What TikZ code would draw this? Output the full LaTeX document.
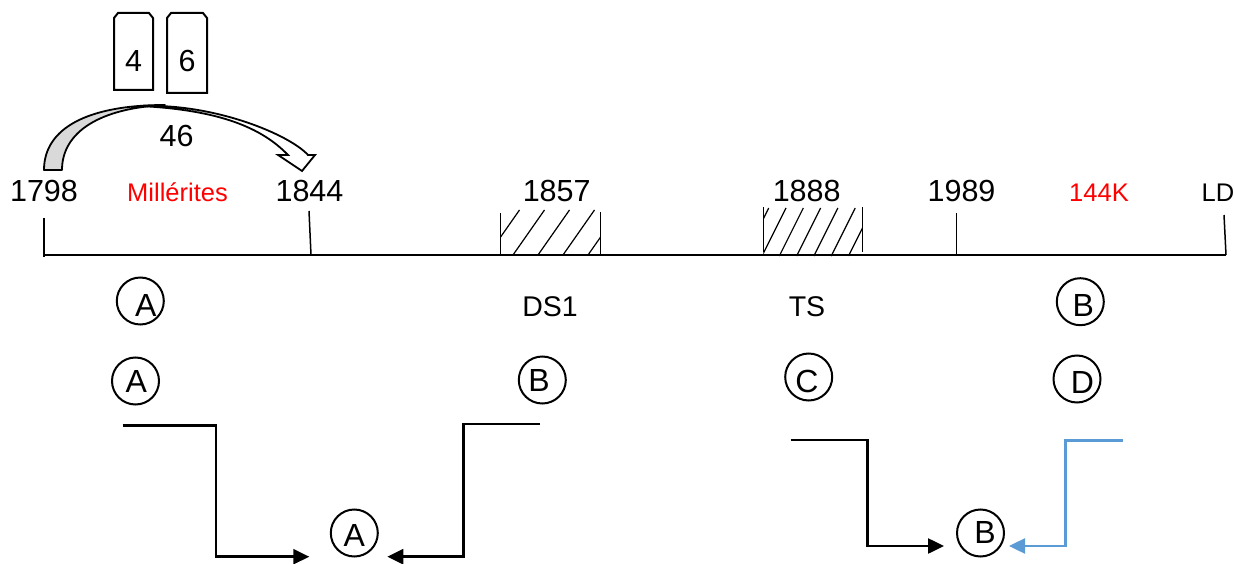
\documentclass[tikz,border=0pt]{standalone}
\usepackage{fontspec}
\setmainfont{Liberation Sans}
\usetikzlibrary{arrows.meta}
\definecolor{linkblue}{RGB}{91,155,213}
\definecolor{milred}{RGB}{255,0,0}
\definecolor{arcgray}{RGB}{217,217,217}
\begin{document}
\begin{tikzpicture}[x=1pt,y=-1pt,
 big/.style={font=\fontsize{30.5}{36}\selectfont, inner sep=0pt, anchor=base},
 small/.style={font=\fontsize{25.5}{30}\selectfont, inner sep=0pt, anchor=base},
 mid/.style={font=\fontsize{28.5}{33}\selectfont, inner sep=0pt, anchor=base},
 circ/.style={circle, draw, line width=2pt, minimum size=47pt, inner sep=0pt},
 lett/.style={font=\fontsize{32}{36}\selectfont, inner sep=0pt},
 tickline/.style={line width=1.5pt},
 hatch/.style={line width=1.2pt},
 tablet/.style={line width=2pt, line join=miter},
 conn/.style={line width=2.5pt, -{Triangle[length=16pt,width=15pt]}},
]
\useasboundingbox (0,0) rectangle (1234,564);

% tablets
\draw[tablet] (114,90) -- (114,18) -- (118,13) -- (149,13) -- (153,18) -- (153,90) -- cycle;
\draw[tablet] (167,93) -- (167,18) -- (171,13) -- (203,13) -- (207,18) -- (207,93) -- cycle;
\node[big] (t4) at (133.5,72) {4};
\node[big] (t6) at (187,72) {6};

% curved arrow: gray underside
\draw[line width=1.8pt, fill=arcgray, line join=round]
  (44,170) .. controls (44,128) and (88,105) .. (165,105)
  .. controls (100,108) and (62,132) .. (62,170) -- cycle;
% curved arrow: white top with head
\draw[line width=1.8pt, fill=white, line join=miter]
  (140,106) .. controls (215,103) and (290,135) .. (308,155)
  -- (315,155) -- (302,171) -- (278,155) -- (288,155)
  .. controls (262,128) and (220,110) .. (140,106) -- cycle;
\node[big] (n46) at (176.7,146.7) {46};

% timeline labels
\node[big] (y1798) at (44,202) {1798};
\node[small, text=milred] (mil) at (177.5,202) {Millérites};
\node[big] (y1844) at (309.5,202) {1844};
\node[big] (y1857) at (556.7,202) {1857};
\node[big] (y1888) at (806.7,202) {1888};
\node[big] (y1989) at (961.5,202) {1989};
\node[small, text=milred] (k144) at (1099,202) {144K};
\node[small, anchor=base west] (ld) at (1201.5,202) {LD};

% timeline
\draw[tickline] (44,255) -- (1226,255);
\draw[tickline] (44,218) -- (44,257);
\draw[tickline] (309,211) -- (311,255);
\draw[tickline] (956.7,213) -- (956.7,255);
\draw[tickline] (1224,215) -- (1226,255);

% hatched box 1857
\draw[tickline] (500.7,213) -- (500.7,255);
\draw[tickline] (600.7,212) -- (600.7,255);
\begin{scope}
  \clip (500.7,210) rectangle (600.7,255);
  \foreach \b in {463,488,513,538,563,588,613}
    \draw[hatch] (\b,255) -- ++(31.5,-45);
\end{scope}

% hatched box 1888
\draw[tickline] (763.3,207) -- (763.3,252);
\draw[tickline] (862.3,207) -- (862.3,252);
\begin{scope}
  \clip (763.3,208) rectangle (862.3,256);
  \foreach \t in {768.7,786,803.3,820.6,837.9,855.2,872.5,889.8}
    \draw[hatch] (\t,208) -- ++(-24,48);
\end{scope}

% row 1 labels
\node[circ] (ca1) at (140.3,301) {};
\node[lett] (la1) at (145.8,305) {A};
\node[mid] (ds1) at (550,316) {DS1};
\node[mid] (ts) at (807,316) {TS};
\node[circ] (cb1) at (1080.3,301.7) {};
\node[lett] (lb1) at (1083.3,305) {B};

% row 2 labels
\node[circ] (ca2) at (135.5,381) {};
\node[lett] (la2) at (136.3,381.5) {A};
\node[circ] (cb2) at (542.3,380) {};
\node[lett] (lb2) at (539,380) {B};
\node[circ] (cc2) at (808.7,377) {};
\node[lett] (lc2) at (807,381) {C};
\node[circ] (cd2) at (1077,379) {};
\node[lett] (ld2) at (1082.5,382.5) {D};

% bottom targets
\node[circ] (ca3) at (354.3,533) {};
\node[lett] (la3) at (354.3,535) {A};
\node[circ] (cb3) at (980.5,533) {};
\node[lett] (lb3) at (985,532) {B};

% connectors
\coordinate (s1) at (122.7,425.7);
\coordinate (e1) at (309.3,556.7);
\coordinate (s2) at (540,424);
\coordinate (e2) at (387.3,556.7);
\coordinate (s3) at (790.7,440);
\coordinate (e3) at (944,546);
\coordinate (s4) at (1122.7,440.7);
\coordinate (e4) at (1009,546);
\draw[conn] (s1) -| (216,556.7) -- (e1);
\draw[conn] (s2) -| (463.3,556.7) -- (e2);
\draw[conn] (s3) -| (867.7,546) -- (e3);
\draw[conn, draw=linkblue] (s4) -| (1065.7,546) -- (e4);
\end{tikzpicture}
\end{document}
